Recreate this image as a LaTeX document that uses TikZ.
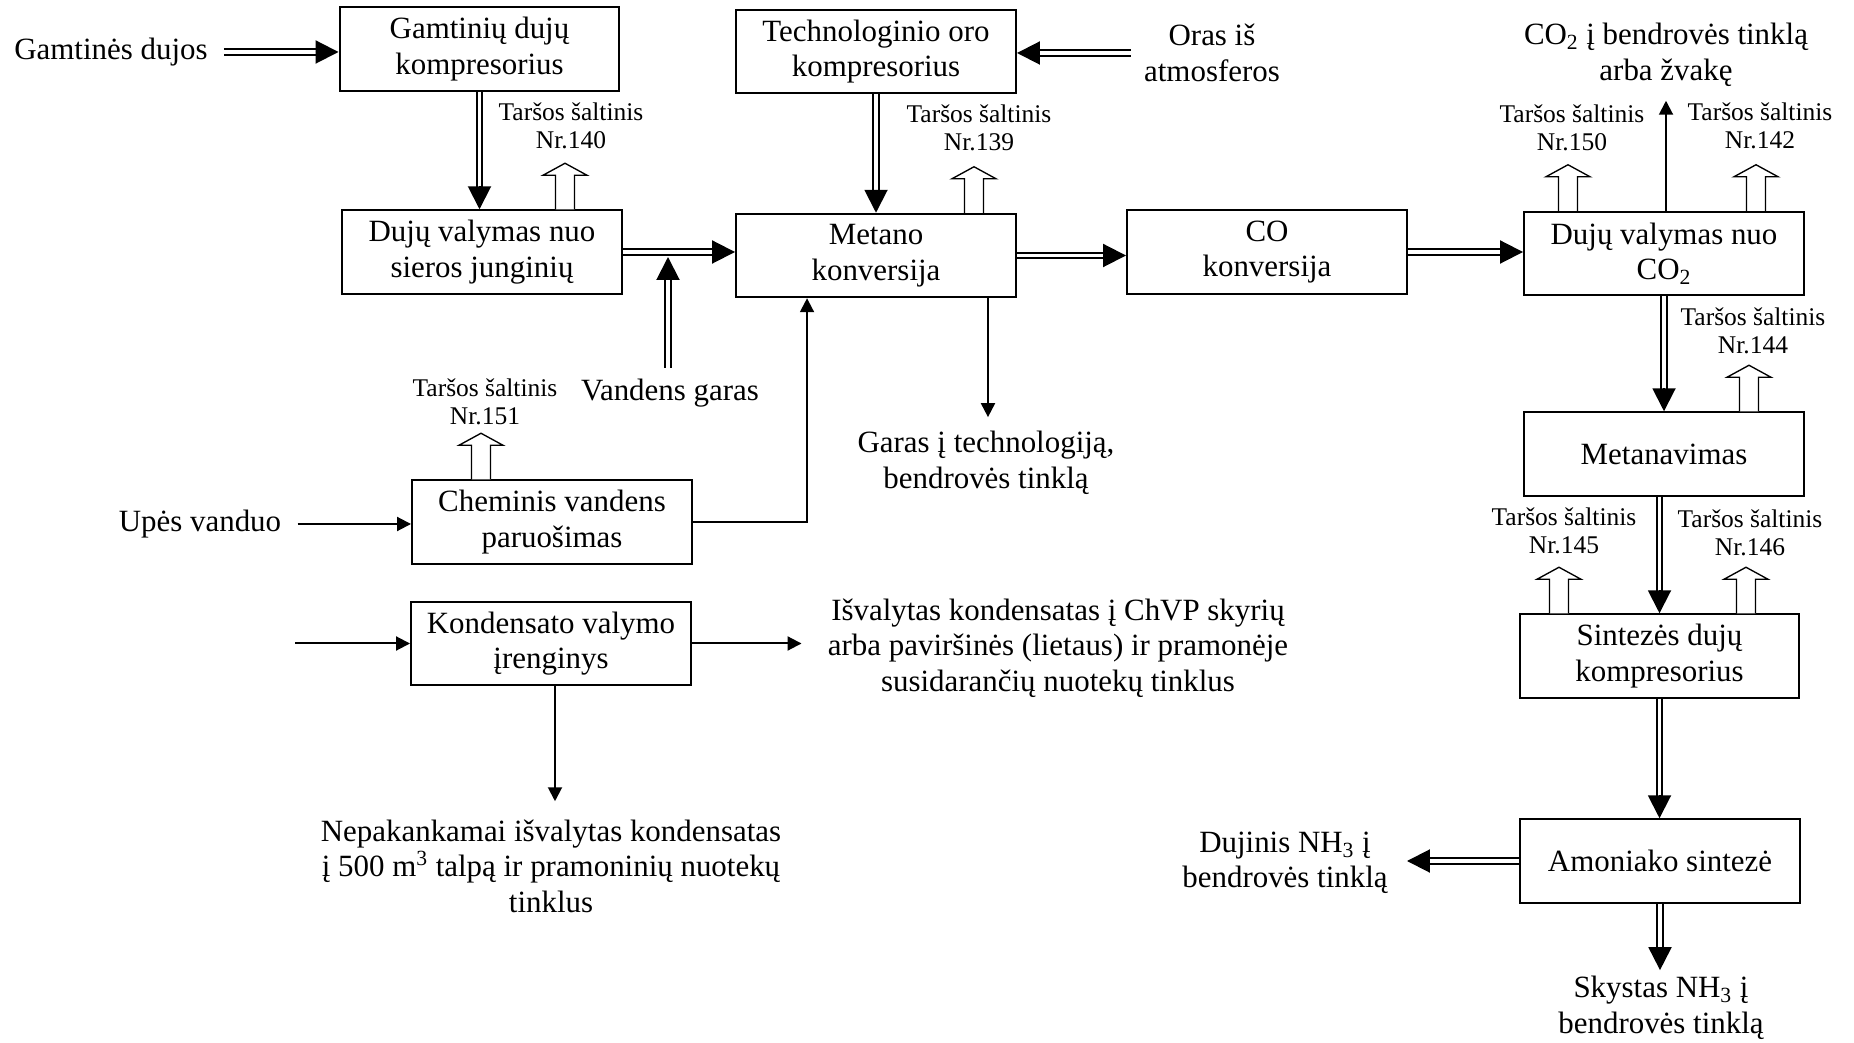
\documentclass[tikz,border=0pt]{standalone}
\usepackage{fontspec}
\setmainfont{Liberation Serif}
\usetikzlibrary{arrows.meta,calc}

\newcommand\mainsz{\fontsize{17.6pt}{20.2pt}\selectfont}
\newcommand\srcsz{\fontsize{14.5pt}{16.3pt}\selectfont}

% double stream line with a solid head: the double line stops short, the head is drawn on its own
\newcommand\dblarrow[2]{%
  \draw[dbl, shorten >=0.42cm] (#1) -- (#2);
  \draw[dbltip] ($(#2)!0.46cm!(#1)$) -- (#2);}

\tikzset{
  box/.style={draw, line width=0.04cm, minimum width=5.6cm, minimum height=1.67cm,
              align=center, inner sep=0pt, font=\mainsz},
  lbl/.style={align=center, inner sep=0pt, font=\mainsz},
  src/.style={align=center, inner sep=0pt, font=\srcsz},
  sarrow/.style={line width=0.04cm, -{Triangle[width=0.28cm,length=0.28cm]}},
  dbl/.style={double, double distance=0.07cm, line width=0.04cm},
  dbltip/.style={line width=0.04cm, -{Triangle[width=0.46cm,length=0.46cm]}},
  hollow/.style={line width=0.027cm, fill=white, line join=miter},
  emis/.pic={\draw[hollow] (-9.5,0) -- (-9.5,-34) -- (-22,-34) -- (0,-46)
                           -- (22,-34) -- (9.5,-34) -- (9.5,0);}
}

\begin{document}
\begin{tikzpicture}[x=0.02cm, y=-0.02cm]
\fill[white] (0,0) rectangle (1854,1043);
\useasboundingbox (0,0) rectangle (1854,1043);

% process units
\node[box] (b1)  at (479.5, 49)   {Gamtinių dujų\\kompresorius};
\node[box] (b2)  at (482, 252)    {Dujų valymas nuo\\sieros junginių};
\node[box] (b3)  at (876, 51.5)   {Technologinio oro\\kompresorius};
\node[box] (b4)  at (876, 255.5)  {Metano\\konversija};
\node[box] (b5)  at (1267, 252)   {CO\\konversija};
\node[box] (b6)  at (1664, 253.5) {Dujų valymas nuo\\CO\textsubscript{2}};
\node[box] (b7)  at (1664, 454)   {Metanavimas};
\node[box] (b8)  at (1659.5, 656) {Sintezės dujų\\kompresorius};
\node[box] (b9)  at (1660, 861)   {Amoniako sintezė};
\node[box] (b10) at (552, 522)    {Cheminis vandens\\paruošimas};
\node[box] (b11) at (551, 643.5)  {Kondensato valymo\\įrenginys};

% inputs and outputs
\node[lbl] (gd)      at (111, 52)   {Gamtinės dujos};
\node[lbl] (oras)    at (1212, 53)  {Oras iš\\atmosferos};
\node[lbl] (co2out)  at (1666, 55)  {CO\textsubscript{2} į bendrovės tinklą\\arba žvakę};
\node[lbl] (vg)      at (670, 393)  {Vandens garas};
\node[lbl] (upes)    at (200, 524)  {Upės vanduo};
\node[lbl] (garas)   at (986, 463)  {Garas į technologiją,\\bendrovės tinklą};
\node[lbl] (isval)   at (1058, 648) {Išvalytas kondensatas į ChVP skyrių\\arba paviršinės (lietaus) ir pramonėje\\susidarančių nuotekų tinklus};
\node[lbl] (nepak)   at (551, 866)  {Nepakankamai išvalytas kondensatas\\į 500 m\textsuperscript{3} talpą ir pramoninių nuotekų\\tinklus};
\node[lbl] (dujinis) at (1285, 863) {Dujinis NH\textsubscript{3} į\\bendrovės tinklą};
\node[lbl] (skystas) at (1661, 1008) {Skystas NH\textsubscript{3} į\\bendrovės tinklą};

% emission sources
\node[src] (t140) at (571, 126)  {Taršos šaltinis\\Nr.140};
\node[src] (t139) at (979, 128)  {Taršos šaltinis\\Nr.139};
\node[src] (t150) at (1572, 128) {Taršos šaltinis\\Nr.150};
\node[src] (t142) at (1760, 126) {Taršos šaltinis\\Nr.142};
\node[src] (t144) at (1753, 331) {Taršos šaltinis\\Nr.144};
\node[src] (t151) at (485, 402)  {Taršos šaltinis\\Nr.151};
\node[src] (t145) at (1564, 531) {Taršos šaltinis\\Nr.145};
\node[src] (t146) at (1750, 533) {Taršos šaltinis\\Nr.146};

\pic at ($(b2.north)+(83,0)$)    {emis};
\pic at ($(b4.north)+(98,0)$)    {emis};
\pic at ($(b6.north)+(-96,0)$)   {emis};
\pic at ($(b6.north)+(92,0)$)    {emis};
\pic at ($(b7.north)+(85,0)$)    {emis};
\pic at ($(b10.north)+(-71,0)$)  {emis};
\pic at ($(b8.north)+(-100.5,0)$){emis};
\pic at ($(b8.north)+(86.5,0)$)  {emis};

% gas streams (double lines)
\coordinate (c1s) at ($(gd.east)+(16,0)$);
\coordinate (c1e) at (c1s -| b1.west);
\dblarrow{c1s}{c1e}

\coordinate (c2e) at (b1.south |- b2.north);
\dblarrow{b1.south}{c2e}

\coordinate (c3e) at (b2.east -| b4.west);
\dblarrow{b2.east}{c3e}

\coordinate (c4s) at ($(vg.north)+(-2,-11)$);
\coordinate (c4m) at (c4s |- c3e);
\coordinate (c4e) at ($(c4m)+(0,5)$);
\dblarrow{c4s}{c4e}

\coordinate (c5e) at (b3.south |- b4.north);
\dblarrow{b3.south}{c5e}

\coordinate (c6s) at ($(oras.west)+(-13,0)$);
\coordinate (c6e) at (c6s -| b3.east);
\dblarrow{c6s}{c6e}

\coordinate (c7e) at (b4.east -| b5.west);
\dblarrow{b4.east}{c7e}

\coordinate (c8e) at (b5.east -| b6.west);
\dblarrow{b5.east}{c8e}

\coordinate (c10e) at (b6.south |- b7.north);
\dblarrow{b6.south}{c10e}

\coordinate (c11s) at (b8.north |- b7.south);
\dblarrow{c11s}{b8.north}

\coordinate (c12e) at (b8.south |- b9.north);
\dblarrow{b8.south}{c12e}

\coordinate (c13x) at ($(dujinis.east)+(19,0)$);
\coordinate (c13e) at (b9.west -| c13x);
\dblarrow{b9.west}{c13e}

\coordinate (c14x) at ($(skystas.north)+(0,-6)$);
\coordinate (c14e) at (b9.south |- c14x);
\dblarrow{b9.south}{c14e}

% single lines
\coordinate (c9s) at ($(b6.north)+(2,0)$);
\coordinate (c9e) at ($(c9s)+(0,-110)$);
\draw[sarrow] (c9s) -- (c9e);

\coordinate (c15s) at ($(b4.south)+(112,0)$);
\coordinate (c15x) at ($(garas.north)+(0,-14)$);
\coordinate (c15e) at (c15s |- c15x);
\draw[sarrow] (c15s) -- (c15e);

\coordinate (c16x) at ($(b4.south west)+(72,0)$);
\draw[sarrow] (b10.east) -| (c16x);

\coordinate (c17s) at ($(upes.east)+(16,0)$);
\coordinate (c17e) at (c17s -| b10.west);
\draw[sarrow] (c17s) -- (c17e);

\coordinate (c18s) at ($(b11.west)+(-115,0)$);
\draw[sarrow] (c18s) -- (b11.west);

\coordinate (c19x) at ($(isval.west)+(-26,0)$);
\coordinate (c19e) at (b11.east -| c19x);
\draw[sarrow] (b11.east) -- (c19e);

\coordinate (c20s) at ($(b11.south)+(4,0)$);
\coordinate (c20x) at ($(nepak.north)+(0,-18)$);
\coordinate (c20e) at (c20s |- c20x);
\draw[sarrow] (c20s) -- (c20e);
\end{tikzpicture}
\end{document}
